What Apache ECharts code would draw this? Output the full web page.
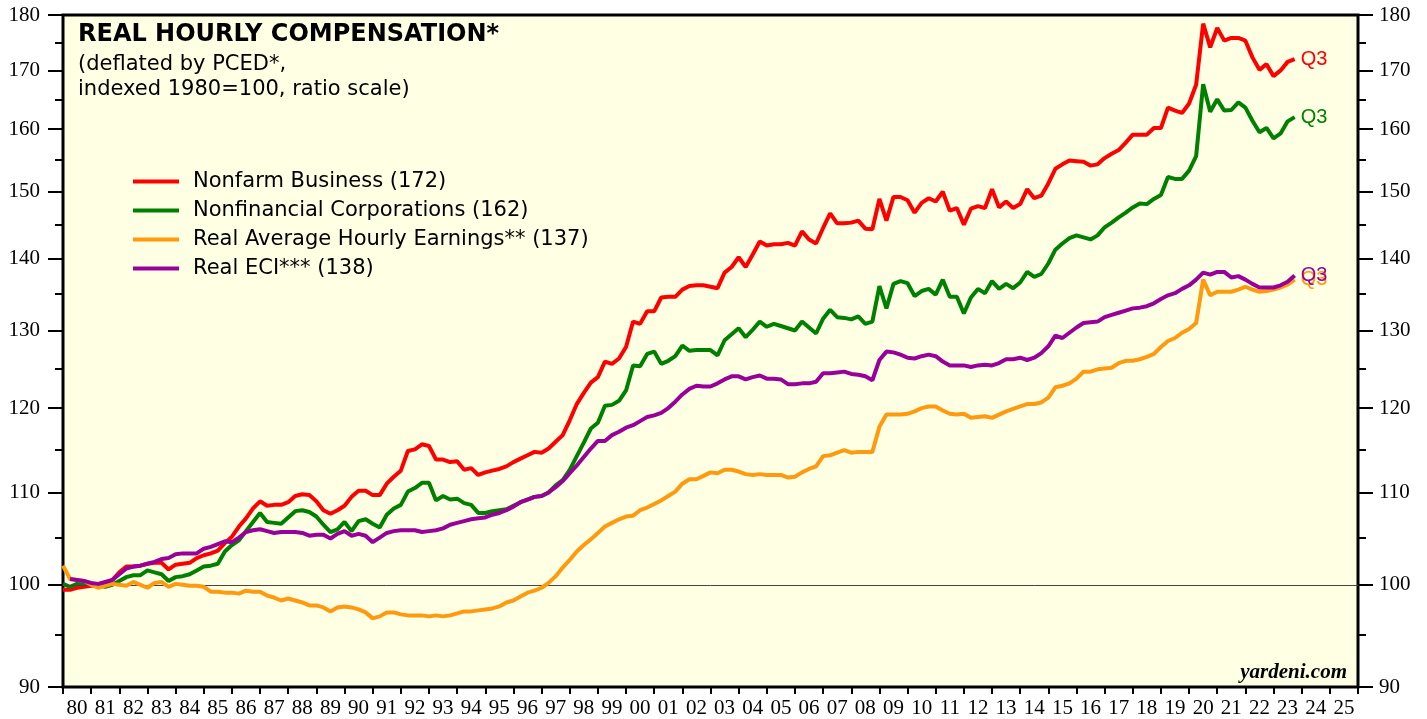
<!DOCTYPE html>
<html>
<head>
<meta charset="utf-8">
<script src="https://cdn.jsdelivr.net/npm/echarts@6/dist/echarts.min.js"></script>
<style>
  html, body { margin: 0; padding: 0; background: #fff; }
  #main { width: 1427px; height: 719px; }
</style>
</head>
<body>
<div id="main"></div>
<script>
// quarterly values, 1980 Q1 .. 2023 Q3 (index 1980=100)
var firstYear = 1980;
var yearLabels = ['80','81','82','83','84','85','86','87','88','89','90','91','92','93','94','95','96','97','98','99',
  '00','01','02','03','04','05','06','07','08','09','10','11','12','13','14','15','16','17','18','19',
  '20','21','22','23','24','25'];
var majorTicks = [90, 100, 110, 120, 130, 140, 150, 160, 170, 180];
var minorTicks = [95, 105, 115, 125, 135, 145, 155, 165, 175];

var seriesNames = ['Nonfarm Business (172)', 'Nonfinancial Corporations (162)',
  'Real Average Hourly Earnings** (137)', 'Real ECI*** (138)'];
var seriesColors = ['#ff0000', '#008000', '#ff9a0e', '#990099'];

var nonfarm = [
  99.5,99.5,99.7,99.8, 99.9,100.0,100.2,100.5, 101.3,101.9,101.9,102.0, 102.2,102.3,102.3,101.6, 102.1,102.2,102.3,102.8,
  103.1,103.3,103.6,104.4, 105.1,106.2,107.1,108.2, 109.0,108.5,108.6,108.6, 108.9,109.6,109.8,109.7, 109.0,108.0,107.6,108.0,
  108.5,109.5,110.2,110.2, 109.7,109.7,111.0,111.8, 112.5,114.8,115.0,115.6, 115.4,113.8,113.8,113.5, 113.6,112.6,112.8,112.0,
  112.3,112.5,112.7,113.0, 113.5,113.9,114.3,114.7, 114.6,115.1,115.9,116.7, 118.5,120.5,121.9,123.2, 123.9,125.9,125.6,126.3,
  127.8,131.2,130.9,132.6, 132.6,134.5,134.6,134.6, 135.6,136.1,136.2,136.2, 136.0,135.8,138.0,138.8, 140.2,138.8,140.6,142.5,
  141.9,142.1,142.1,142.3, 141.9,144.0,142.8,142.2, 144.5,146.7,145.2,145.2, 145.3,145.6,144.4,144.3, 148.9,145.6,149.2,149.2,
  148.7,146.8,148.3,149.0, 148.5,150.0,147.1,147.5, 145.0,147.4,147.8,147.5, 150.4,147.6,148.5,147.5, 148.1,150.4,149.0,149.4,
  151.3,153.6,154.3,154.9, 154.8,154.7,154.1,154.3, 155.3,156.0,156.6,157.8, 159.1,159.1,159.1,160.2, 160.2,163.6,163.1,162.7,
  164.3,167.5,178.4,174.1, 177.6,175.3,175.8,175.8, 175.3,172.3,170.1,171.1, 169.0,170.0,171.5,172.0
];
var nonfinancial = [
  100.1,99.8,100.1,100.2, 100.1,100.0,99.8,100.0, 100.4,100.8,101.0,101.0, 101.5,101.3,101.1,100.4, 100.8,100.9,101.1,101.5,
  101.9,102.0,102.2,103.5, 104.2,104.7,105.7,106.7, 107.7,106.7,106.6,106.5, 107.2,107.9,108.0,107.8, 107.3,106.4,105.6,105.9,
  106.7,105.7,106.8,107.0, 106.5,106.1,107.5,108.2, 108.6,110.1,110.5,111.1, 111.1,109.1,109.6,109.2, 109.3,108.8,108.6,107.7,
  107.7,107.9,108.0,108.1, 108.5,108.9,109.2,109.5, 109.6,110.0,110.8,111.4, 112.6,114.2,115.8,117.5, 118.2,120.3,120.4,120.9,
  122.2,125.4,125.3,126.9, 127.2,125.6,126.0,126.6, 128.0,127.3,127.4,127.4, 127.4,126.7,128.7,129.5, 130.3,129.1,130.1,131.2,
  130.5,130.9,130.6,130.3, 130.0,131.2,130.4,129.6, 131.6,132.8,131.8,131.7, 131.5,131.9,130.9,131.2, 136.1,133.0,136.4,136.8,
  136.5,134.7,135.4,135.7, 134.9,137.0,134.6,134.6, 132.3,134.5,135.7,135.1, 136.8,135.7,136.4,135.8, 136.6,138.1,137.4,137.8,
  139.3,141.3,142.2,143.0, 143.4,143.1,142.8,143.4, 144.6,145.3,146.1,146.8, 147.6,148.2,148.1,148.9, 149.5,152.3,152.0,152.0,
  153.3,155.6,167.6,162.9, 165.0,163.1,163.2,164.5, 163.6,161.4,159.5,160.2, 158.5,159.3,161.3,162.0
];
var hourlyEarnings = [
  102.0,100.6,100.5,100.4, 100.0,99.7,99.9,100.1, 100.0,99.9,100.3,100.0, 99.7,100.2,100.3,99.8, 100.1,100.0,99.9,99.9,
  99.8,99.3,99.3,99.2, 99.2,99.1,99.4,99.3, 99.3,98.9,98.7,98.4, 98.6,98.4,98.2,97.9, 97.9,97.7,97.3,97.7,
  97.8,97.7,97.5,97.2, 96.6,96.8,97.2,97.2, 97.0,96.9,96.9,96.9, 96.8,96.9,96.8,96.9, 97.1,97.3,97.3,97.4,
  97.5,97.6,97.8,98.2, 98.4,98.8,99.2,99.4, 99.7,100.2,100.9,101.8, 102.6,103.5,104.2,104.8, 105.5,106.2,106.6,107.0,
  107.3,107.4,108.0,108.3, 108.7,109.1,109.6,110.1, 111.0,111.5,111.5,111.9, 112.3,112.2,112.6,112.6, 112.4,112.1,112.0,112.1,
  112.0,112.0,112.0,111.7, 111.8,112.3,112.7,113.0, 114.2,114.3,114.6,114.9, 114.6,114.7,114.7,114.7, 117.7,119.2,119.2,119.2,
  119.3,119.6,120.0,120.2, 120.2,119.7,119.3,119.2, 119.3,118.8,118.9,119.0, 118.8,119.2,119.6,119.9, 120.2,120.5,120.5,120.7,
  121.3,122.6,122.8,123.1, 123.7,124.6,124.6,124.9, 125.0,125.1,125.7,126.0, 126.0,126.2,126.5,126.9, 127.8,128.6,129.0,129.7,
  130.2,131.0,137.0,134.8, 135.3,135.3,135.3,135.6, 136.0,135.6,135.3,135.4, 135.6,135.9,136.3,137.0
];
var eci = [
  null,100.6,100.5,100.4, 100.2,100.1,100.3,100.5, 101.1,101.7,101.9,102.0, 102.2,102.4,102.7,102.8, 103.2,103.3,103.3,103.3,
  103.8,104.0,104.3,104.6, 104.5,105.0,105.6,105.8, 105.9,105.7,105.5,105.6, 105.6,105.6,105.5,105.2, 105.3,105.3,104.9,105.4,
  105.7,105.2,105.4,105.2, 104.5,105.0,105.5,105.7, 105.8,105.8,105.8,105.6, 105.7,105.8,106.0,106.4, 106.6,106.8,107.0,107.1,
  107.2,107.5,107.7,108.0, 108.4,108.9,109.2,109.5, 109.6,110.0,110.6,111.3, 112.2,113.1,114.1,115.1, 116.0,116.0,116.7,117.1,
  117.6,117.9,118.4,118.9, 119.1,119.4,120.0,120.8, 121.7,122.4,122.8,122.7, 122.7,123.1,123.6,124.0, 124.0,123.6,123.9,124.1,
  123.7,123.7,123.6,123.0, 123.0,123.1,123.1,123.3, 124.4,124.4,124.5,124.6, 124.3,124.2,124.0,123.5, 126.1,127.2,127.1,126.8,
  126.4,126.3,126.6,126.8, 126.6,125.9,125.4,125.4, 125.4,125.2,125.4,125.5, 125.4,125.7,126.2,126.2, 126.4,126.1,126.4,127.0,
  127.9,129.3,129.0,129.7, 130.4,131.0,131.1,131.2, 131.8,132.1,132.4,132.7, 133.0,133.1,133.3,133.7, 134.3,134.8,135.1,135.7,
  136.2,137.0,138.0,137.7, 138.1,138.1,137.3,137.5, 137.0,136.4,135.9,135.9, 135.9,136.2,136.7,137.6
];

// x position of each quarter on the year axis
function toPairs(arr) {
  var out = [];
  for (var i = 0; i < arr.length; i++) {
    out.push([firstYear + i * 0.25, arr[i]]);
  }
  return out;
}

var yearTicks = [], labelPos = [];
for (var i = 0; i <= yearLabels.length; i++) {
  yearTicks.push(firstYear + i);
  if (i < yearLabels.length) labelPos.push(firstYear + i + 0.5);
}

function yAxisDef(side, ticks, len, withLabels) {
  return {
    type: 'log', logBase: 10, min: 90, max: 180, position: side,
    axisLine: { show: false },
    splitLine: { show: false },
    axisTick: { show: true, customValues: ticks, length: len, lineStyle: { color: '#000', width: 2 } },
    axisLabel: {
      show: withLabels, customValues: ticks, color: '#000',
      fontFamily: 'Liberation Serif', fontSize: 21, margin: side == 'left' ? 23 : 21
    }
  };
}

var lineData = [nonfarm, nonfinancial, hourlyEarnings, eci];
var series = [{
  type: 'line', data: [], z: 1, silent: true,
  markLine: {
    silent: true, symbol: 'none', animation: false,
    label: { show: false },
    lineStyle: { color: '#444', width: 1, type: 'solid' },
    data: [{ yAxis: 100 }]
  }
}];
for (var k = 0; k < lineData.length; k++) {
  series.push({
    name: seriesNames[k], type: 'line', data: toPairs(lineData[k]),
    showSymbol: false, symbol: 'none', z: 3 + k,
    lineStyle: { width: 4, color: seriesColors[k] },
    itemStyle: { color: seriesColors[k] },
    endLabel: {
      show: true, formatter: 'Q3', color: seriesColors[k],
      fontFamily: 'Liberation Sans', fontSize: 20, distance: 6
    }
  });
}

var chart = echarts.init(document.getElementById('main'));
chart.setOption({
  animation: false,
  backgroundColor: '#fff',
  grid: { left: 63, right: 69, top: 15, bottom: 32, show: true, backgroundColor: '#ffffe3', borderColor: '#000', borderWidth: 3 },
  xAxis: {
    type: 'value', min: 1980, max: 2026,
    axisLine: { show: false },
    splitLine: { show: false },
    axisTick: { show: true, customValues: yearTicks, length: 7, lineStyle: { color: '#000', width: 2 } },
    axisLabel: {
      customValues: labelPos, color: '#000', fontFamily: 'Liberation Serif', fontSize: 21, margin: 11,
      formatter: function (v) { return yearLabels[Math.floor(v) - firstYear]; }
    }
  },
  yAxis: [
    yAxisDef('left', majorTicks, 15, true),
    yAxisDef('left', minorTicks, 8, false),
    yAxisDef('right', majorTicks, 15, true),
    yAxisDef('right', minorTicks, 8, false)
  ],
  legend: {
    data: seriesNames, orient: 'vertical', left: 128, top: 166,
    icon: 'rect', itemWidth: 46, itemHeight: 4, itemGap: 8, selectedMode: false,
    textStyle: { fontFamily: 'DejaVu Sans', fontSize: 21, color: '#000', padding: [0, 0, 0, 9] }
  },
  graphic: [
    { type: 'text', x: 78, y: 35, style: { text: 'REAL HOURLY COMPENSATION*', font: 'bold 24px "DejaVu Sans"', fill: '#000', verticalAlign: 'middle' } },
    { type: 'text', x: 78, y: 65, style: { text: '(deflated by PCED*,', font: '21px "DejaVu Sans"', fill: '#000', verticalAlign: 'middle' } },
    { type: 'text', x: 78, y: 90, style: { text: 'indexed 1980=100, ratio scale)', font: '21px "DejaVu Sans"', fill: '#000', verticalAlign: 'middle' } },
    { type: 'text', x: 1347, y: 673, style: { text: 'yardeni.com', font: 'italic bold 21px "Liberation Serif"', fill: '#000', align: 'right', verticalAlign: 'middle' } }
  ],
  series: series
});
</script>
</body>
</html>
